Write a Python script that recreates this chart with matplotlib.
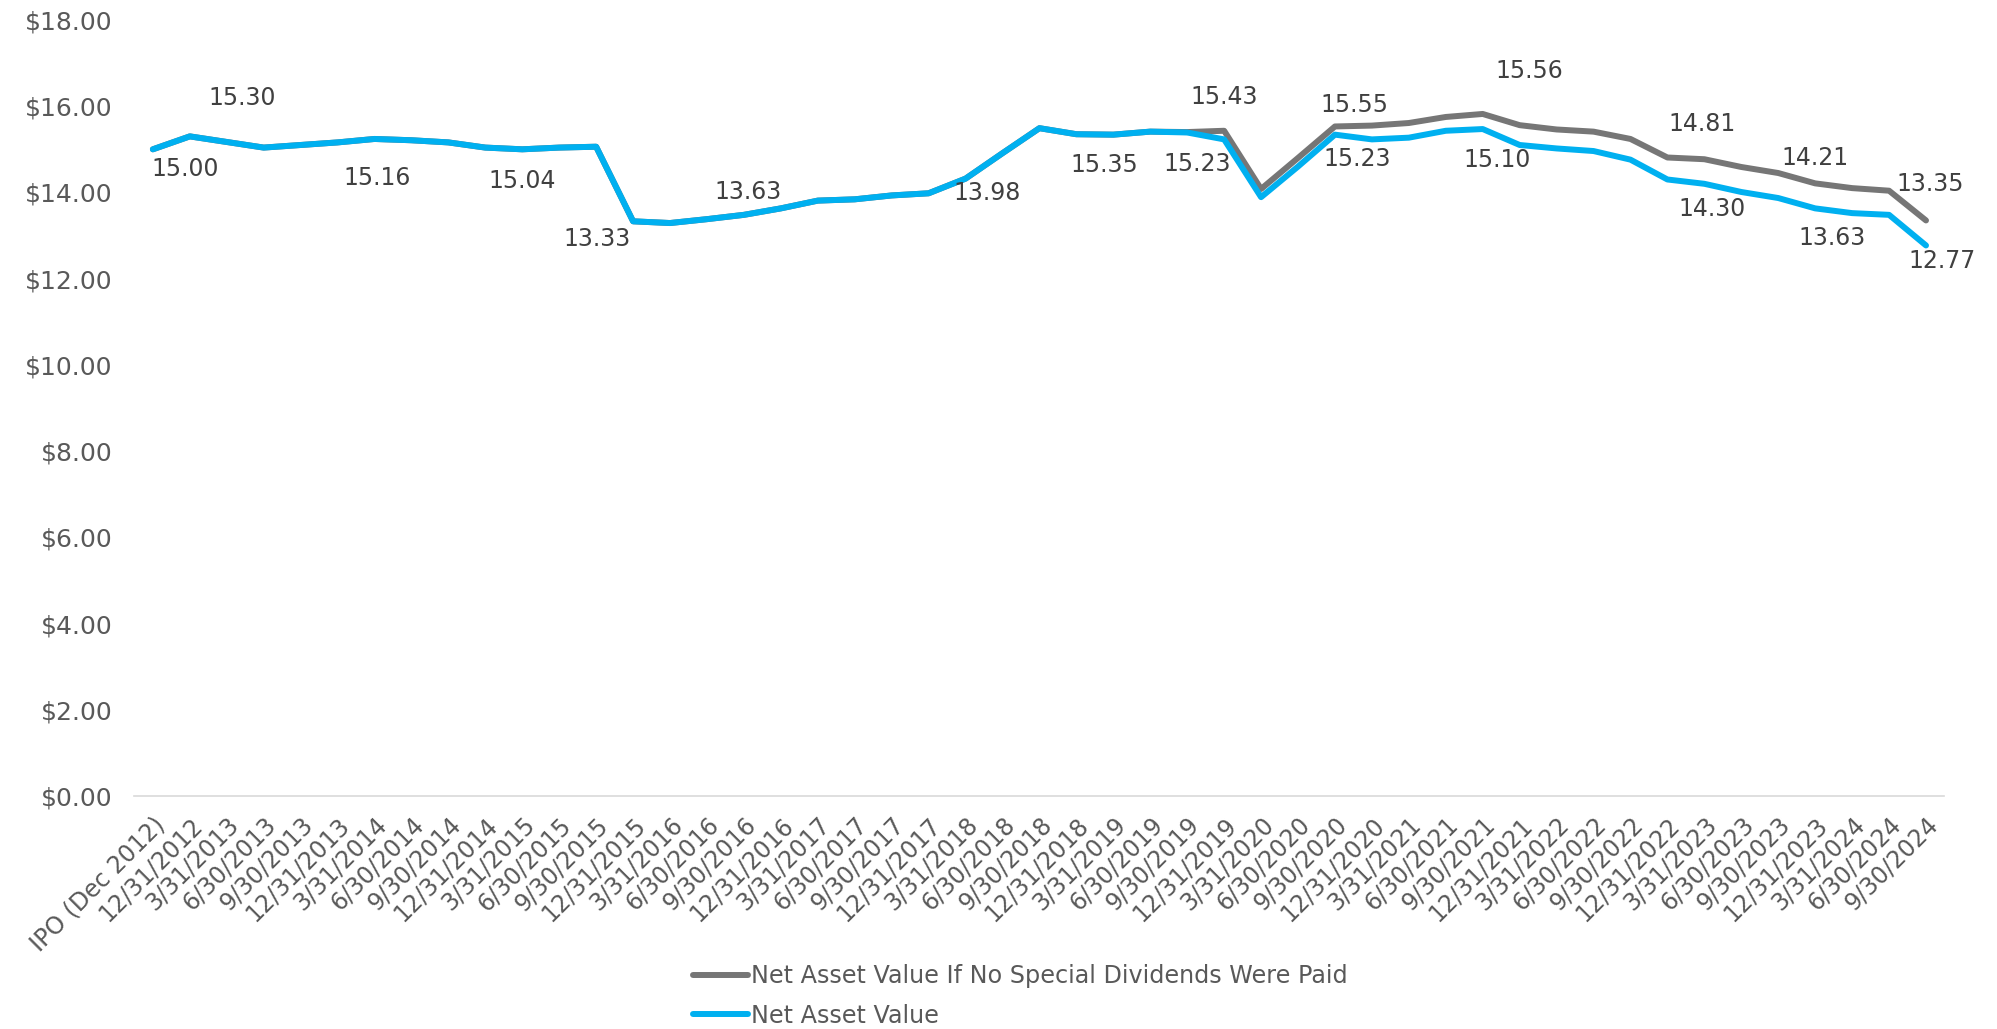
import matplotlib
matplotlib.use("Agg")
from matplotlib import pyplot as plt
import numpy as np

# quarter-end dates, IPO first
dates = ["IPO (Dec 2012)", "12/31/2012"]
for yr in range(2013, 2025):
    for q in ["3/31", "6/30", "9/30", "12/31"]:
        dates.append(q + "/" + str(yr))
dates = dates[:49]  # ends at 9/30/2024

# net asset value per share
nav = [15.00, 15.30, 15.17, 15.04, 15.10, 15.16, 15.24, 15.21, 15.16, 15.04,
       15.00, 15.04, 15.06, 13.33, 13.29, 13.38, 13.48, 13.63, 13.81, 13.84,
       13.93, 13.98, 14.32, 14.91, 15.49, 15.35, 15.34, 15.41, 15.39, 15.23,
       13.89, 14.60, 15.34, 15.23, 15.27, 15.43, 15.47, 15.10, 15.02, 14.96,
       14.76, 14.30, 14.20, 14.01, 13.87, 13.63, 13.52, 13.48, 12.77]

# net asset value if no special dividends had been paid
nav_no_special = nav[:28] + [
       15.40, 15.43, 14.08, 14.80, 15.53, 15.55, 15.61, 15.75, 15.82, 15.56,
       15.46, 15.41, 15.24, 14.81, 14.77, 14.59, 14.45, 14.21, 14.10, 14.04,
       13.35]

# which points get a value label, and where the label sits (pixels from the point)
nav_labels = {0: (32, -20), 1: (52, 38), 5: (40, -36), 9: (37, -33), 13: (-36, -18),
              17: (-33, 16), 21: (59, 0), 25: (28, -31), 29: (-27, -25), 33: (-15, -20),
              37: (-23, -15), 41: (45, -30), 45: (17, -30), 48: (16, -16)}
gray_labels = {29: (0, 34), 33: (-17, 21), 37: (10, 54), 41: (35, 33), 45: (0, 25),
               48: (4, 36)}

blue = "#00B0F0"
gray = "#767676"
txt = "#404040"

fig = plt.figure(figsize=(19.97, 10.29), dpi=100)
ax = fig.add_axes([0.0673, 0.2264, 0.9064, 0.7542])

x = np.arange(len(dates))
ax.plot(x, nav_no_special, color=gray, lw=4.3, solid_capstyle="round",
        label="Net Asset Value If No Special Dividends Were Paid")
ax.plot(x, nav, color=blue, lw=4.3, solid_capstyle="round", label="Net Asset Value")

for i, (dx, dy) in nav_labels.items():
    ax.annotate(f"{nav[i]:.2f}", (i, nav[i]), xytext=(dx, dy), textcoords="offset pixels",
                ha="center", va="center", fontsize=17, color=txt)
for i, (dx, dy) in gray_labels.items():
    ax.annotate(f"{nav_no_special[i]:.2f}", (i, nav_no_special[i]), xytext=(dx, dy),
                textcoords="offset pixels", ha="center", va="center", fontsize=17, color=txt)

ax.set_xlim(-0.5, len(dates) - 0.5)
ax.set_ylim(0, 18)
ax.set_yticks(np.arange(0, 19, 2))
ax.set_yticklabels([f"${v:.2f}" for v in np.arange(0, 19, 2)])
ax.set_xticks(x)
ax.set_xticklabels(dates, rotation=45, ha="right", rotation_mode="anchor")
ax.tick_params(axis="y", length=0, pad=16, labelsize=18, labelcolor="#595959")
ax.tick_params(axis="x", length=0, pad=12, labelsize=17, labelcolor="#595959")

for s in ["top", "right", "left"]:
    ax.spines[s].set_visible(False)
ax.spines["bottom"].set_color("#D9D9D9")
ax.spines["bottom"].set_linewidth(1.2)

fig.legend(loc="center", bbox_to_anchor=(0.511, 0.032), ncol=1, frameon=False,
           fontsize=17.2, handlelength=2.3, handletextpad=0.1, labelspacing=0.65,
           labelcolor="#595959")

fig.savefig("out.png", dpi=100)
